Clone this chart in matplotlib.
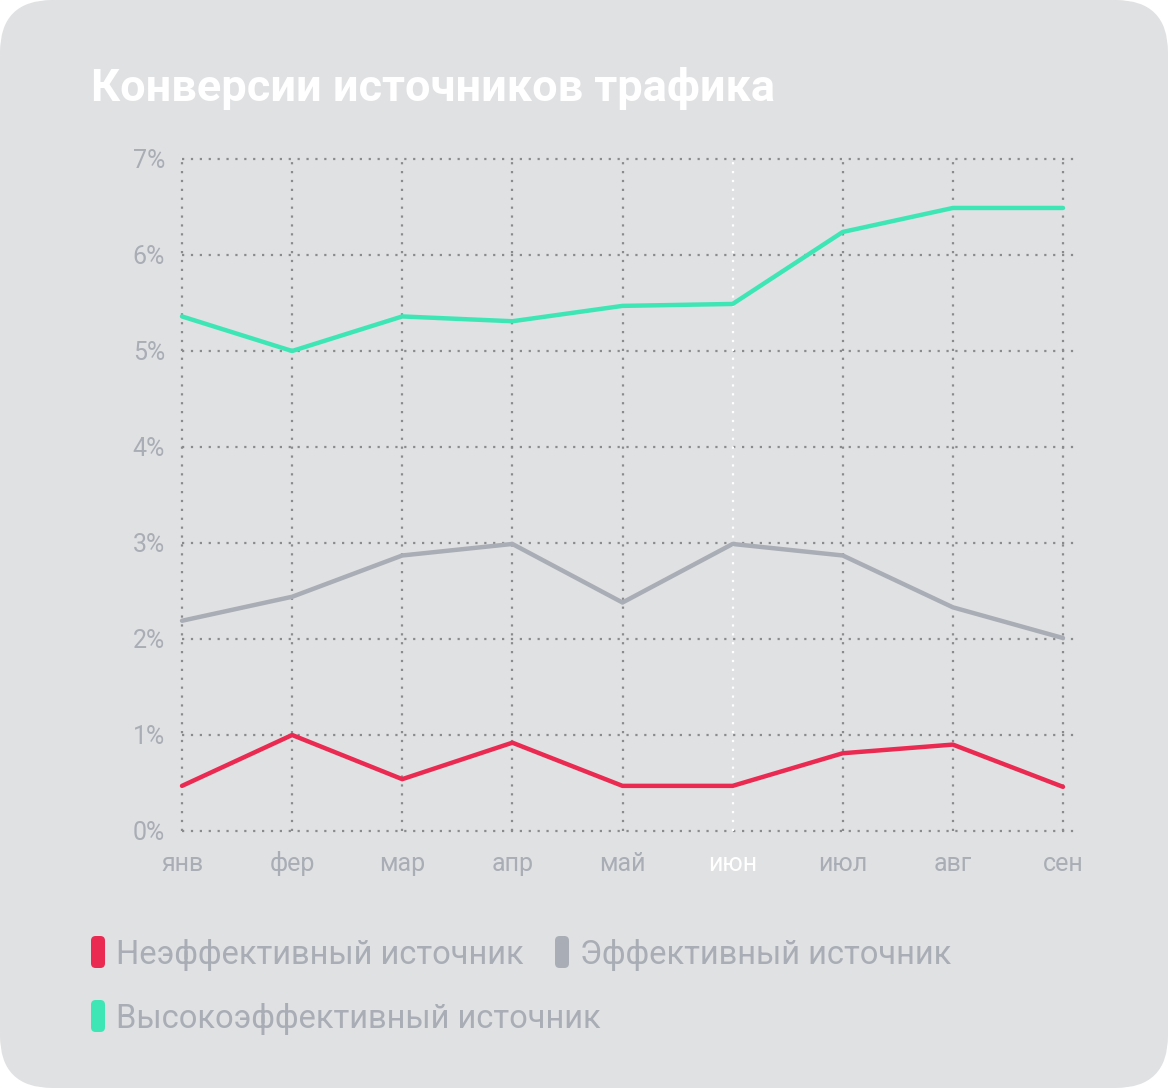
import matplotlib.pyplot as plt
from matplotlib.patches import FancyBboxPatch

# data
months = ['янв', 'фер', 'мар', 'апр', 'май', 'июн', 'июл', 'авг', 'сен']
ineffective = [0.47, 1.0, 0.54, 0.92, 0.47, 0.47, 0.81, 0.90, 0.46]
effective = [2.19, 2.44, 2.87, 2.99, 2.38, 2.99, 2.87, 2.33, 2.01]
high_effective = [5.36, 5.0, 5.36, 5.31, 5.47, 5.49, 6.24, 6.49, 6.49]
y_ticks = [0, 1, 2, 3, 4, 5, 6, 7]
highlight = 'июн'

series_names = ['Неэффективный источник', 'Эффективный источник', 'Высокоэффективный источник']
colors = ['#ea2a51', '#a9adb5', '#3fe6b5']

BG = '#e0e1e3'
TXT = '#a9adb5'
GRID = '#8a8b8d'

plt.rcParams['font.family'] = ['Roboto', 'DejaVu Sans']

W, H = 1168, 1088
fig = plt.figure(figsize=(W / 100, H / 100), dpi=100)
fig.patch.set_facecolor('white')

# rounded card background
card = FancyBboxPatch((0, 0), 1, 1, boxstyle='round,pad=0,rounding_size=0.045',
                      transform=fig.transFigure, facecolor=BG, edgecolor='none',
                      mutation_aspect=W / H, zorder=-10)
fig.patches.append(card)

fig.text(91 / W, 1 - 88 / H, 'Конверсии источников трафика', color='white',
         fontsize=32.5, fontweight='bold', va='center', ha='left')

# axes: x data 0..8 maps to 182..1063 px, horizontal grid runs to ~1078
x0, x1 = 182, 1078
y0, y1 = 831, 159
xmax = 8 * (x1 - x0) / (1063 - x0)
ax = fig.add_axes([x0 / W, 1 - y0 / H, (x1 - x0) / W, (y0 - y1) / H])
ax.set_zorder(5)
ax.set_facecolor('none')
ax.set_xlim(0, xmax)
ax.set_ylim(0, 7)
for s in ax.spines.values():
    s.set_visible(False)

xs = list(range(len(months)))

# dotted grid
for yv in y_ticks:
    ax.plot([0, xmax], [yv, yv], color=GRID, lw=1.6, ls=(0, (1, 3)), zorder=1, clip_on=False)
for i, m in enumerate(months):
    c = 'white' if m == highlight else GRID
    ax.plot([i, i], [0, 7], color=c, lw=1.6, ls=(0, (1, 3)), zorder=1, clip_on=False)

for vals, col in zip([ineffective, effective, high_effective], colors):
    ax.plot(xs, vals, color=col, lw=3.2, solid_capstyle='round', solid_joinstyle='round',
            zorder=3, clip_on=False)

ax.set_xticks([])
ax.set_yticks([])
for yv in y_ticks:
    ax.annotate(f'{yv}%', (0, yv), xytext=(-17, -2), textcoords='offset pixels',
                ha='right', va='center', color=TXT, fontsize=18)
for i, m in enumerate(months):
    c = 'white' if m == highlight else TXT
    ax.annotate(m, (i, 0), xytext=(0, -33), textcoords='offset pixels',
                ha='center', va='center', color=c, fontsize=18)

# legend with rounded colour chips
legend_pos = [(91, 952), (555, 952), (91, 1016)]
for (px, py), name, col in zip(legend_pos, series_names, colors):
    chip = FancyBboxPatch((px / W, 1 - (py + 16) / H), 14 / W, 32 / H,
                          boxstyle='round,pad=0,rounding_size=0.004',
                          transform=fig.transFigure, facecolor=col, edgecolor='none',
                          mutation_aspect=W / H)
    fig.patches.append(chip)
    fig.text((px + 25) / W, 1 - (py + 3) / H, name, color=TXT, fontsize=23.5,
             va='center', ha='left')

fig.savefig('out.png', dpi=100, facecolor=fig.get_facecolor())
